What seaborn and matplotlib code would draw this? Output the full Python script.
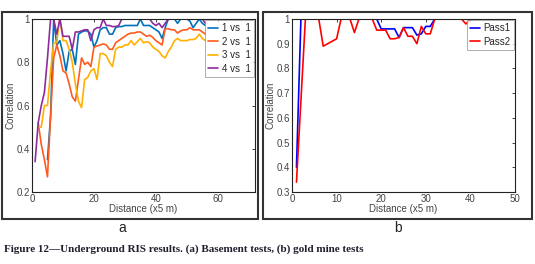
import numpy as np
import pandas as pd
import matplotlib
matplotlib.use("Agg")
import matplotlib.pyplot as plt
import seaborn as sns
from matplotlib.patches import Rectangle

# Panel (a) - basement tests, distance index 1..56
dist_a = list(range(1, 57))
vs1 = [None, None, None, None, 0.35, 0.55, 1.00, 0.88, 0.90, 0.84,
       0.76, 0.85, 0.86, 0.79, 0.93, 0.94, 0.945, 0.945, 0.93, 0.87,
       0.90, 0.95, 0.96, 0.96, 0.93, 0.93, 0.96, 0.965, 0.965, 0.97,
       0.97, 0.97, 0.97, 0.97, 1.00, 0.97, 0.97, 0.97, 0.96, 0.95,
       0.94, 0.91, 0.96, 1.00, 1.00, 1.00, 0.98, 1.00, 1.00, 1.00,
       0.99, 0.96, 0.98, 1.00, 0.98, 0.97]
vs2 = [None, 0.52, 0.42, 0.35, 0.27, 0.55, 0.82, 0.88, 0.83, 0.76,
       0.75, 0.70, 0.64, 0.62, 0.72, 0.82, 0.79, 0.80, 0.78, 0.87,
       0.875, 0.88, 0.885, 0.88, 0.86, 0.86, 0.89, 0.90, 0.91, 0.92,
       0.93, 0.935, 0.935, 0.94, 0.94, 0.93, 0.92, 0.925, 0.915, 0.90,
       0.89, 0.88, 0.955, 0.955, 0.95, 0.95, 0.935, 0.945, 0.95, 0.95,
       0.96, 0.95, 0.95, 0.95, 0.94, 0.93]
vs3 = [None, 0.50, 0.50, 0.60, 0.60, 0.76, 0.89, 0.89, 1.01, 0.90,
       0.90, 0.86, 0.80, 0.70, 0.62, 0.59, 0.72, 0.73, 0.76, 0.77,
       0.72, 0.84, 0.84, 0.83, 0.80, 0.78, 0.86, 0.87, 0.87, 0.88,
       0.88, 0.90, 0.88, 0.895, 0.91, 0.89, 0.895, 0.89, 0.87, 0.86,
       0.85, 0.83, 0.82, 0.85, 0.87, 0.90, 0.91, 0.90, 0.90, 0.90,
       0.905, 0.905, 0.91, 0.93, 0.91, 0.90]
vs4 = [0.34, 0.52, 0.60, 0.66, 0.82, 1.00, 1.00, 0.93, 1.00, 0.92,
       0.92, 0.92, 0.86, 0.94, 0.94, 0.945, 0.95, 0.95, 0.90, 0.95,
       0.96, 0.96, 1.00, 0.97, 0.97, 0.965, 0.965, 0.97, 1.00, 1.00,
       1.00, 1.00, 1.00, 1.00, 1.00, 1.00, 1.00, 1.00, 0.98, 0.97,
       0.98, 0.96, 0.98, 1.00, 1.00, 1.00, 1.00, 1.00, 1.00, 1.00,
       1.00, 1.00, 1.00, 1.00, 1.00, 0.98]
names_a = ["1 vs  1", "2 vs  1", "3 vs  1", "4 vs  1"]
colors_a = ["#0072BD", "#FF5A1F", "#FFB000", "#8E2C9E"]

# Panel (b) - gold mine tests, distance index 1..43
dist_b = list(range(1, 44))
pass1 = [0.40] + [1.0] * 18 + [0.96, 0.96, 0.96, 0.96, 0.925, 0.965, 0.965,
                               0.965, 0.935, 0.94, 0.97, 0.97] + [1.0] * 12
pass2 = [0.34, 0.67, 1.0, 1.0, 1.0, 1.0, 0.89, 0.90, 0.91, 0.92,
         1.0, 1.0, 1.0, 0.945, 1.0, 1.0, 1.0, 1.0, 0.955, 0.955,
         0.955, 0.92, 0.92, 0.925, 0.965, 0.93, 0.93, 0.90, 0.97, 0.94,
         0.94, 1.0, 1.0, 1.0, 1.0, 1.0, 1.0, 1.0, 0.98, 1.0,
         1.0, 1.0, 1.0]
names_b = ["Pass1", "Pass2"]
colors_b = ["#0000FF", "#FF0000"]

yticks_a = [0.2, 0.4, 0.6, 0.8, 1.0]
ylabels_a = ["0.2", "0.4", "0.6", "0.8", "1"]
xticks_a = [0, 20, 40, 60]
yticks_b = [0.3, 0.4, 0.5, 0.6, 0.7, 0.8, 0.9, 1.0]
ylabels_b = ["0.3", "0.4", "0.5", "0.6", "0.7", "0.8", "0.9", "1"]
xticks_b = [0, 10, 20, 30, 40, 50]


def long_form(x, series, names):
    rows = []
    for vals, name in zip(series, names):
        for xi, v in zip(x, vals):
            if v is not None:
                rows.append((xi, v, name))
    return pd.DataFrame(rows, columns=["dist", "corr", "series"])


sns.set_style("white")
plt.rcParams["font.family"] = ["Liberation Sans", "DejaVu Sans"]

W, H = 535, 264
fig = plt.figure(figsize=(W / 100, H / 100), dpi=100)


def px_axes(l, t, r, b):
    return fig.add_axes([l / W, 1 - b / H, (r - l) / W, (b - t) / H])


def style(ax, xlim, ylim, xt, yt, yl):
    ax.set_xlim(*xlim)
    ax.set_ylim(*ylim)
    ax.set_xticks(xt)
    ax.set_xticklabels([str(v) for v in xt])
    ax.set_yticks(yt)
    ax.set_yticklabels(yl)
    ax.tick_params(direction="in", top=True, right=True, length=2.5,
                   width=0.6, labelsize=7, colors="#222222",
                   labelcolor="#444444", pad=1.5)
    for s in ax.spines.values():
        s.set_visible(True)
        s.set_color("#222222")
        s.set_linewidth(0.8)
    ax.set_xlabel("Distance (x5 m)", fontsize=7, color="#444444", labelpad=0)
    ax.set_ylabel("Correlation", fontsize=7, color="#444444", labelpad=1)


# outer frames
for l, r in [(2, 258), (263, 532)]:
    fig.patches.append(Rectangle((l / W, 1 - 219 / H), (r - l) / W, 207 / H,
                                 transform=fig.transFigure, fill=False,
                                 edgecolor="#333333", linewidth=1.5))

ax1 = px_axes(32, 19, 255, 192)
df_a = long_form(dist_a, [vs1, vs2, vs3, vs4], names_a)
sns.lineplot(data=df_a, x="dist", y="corr", hue="series", hue_order=names_a,
             palette=dict(zip(names_a, colors_a)), estimator=None, sort=False,
             linewidth=1.2, ax=ax1)
style(ax1, (0, 72), (0.2, 1.0), xticks_a, yticks_a, ylabels_a)
leg = ax1.legend(loc="upper right", fontsize=7, handlelength=1.0,
                 handletextpad=0.4, borderpad=0.3, labelspacing=0.35,
                 borderaxespad=0.15, frameon=True, fancybox=False)
leg.get_frame().set_edgecolor("#888888")
leg.get_frame().set_linewidth(0.6)

ax2 = px_axes(292, 19, 515, 192)
df_b = long_form(dist_b, [pass1, pass2], names_b)
sns.lineplot(data=df_b, x="dist", y="corr", hue="series", hue_order=names_b,
             palette=dict(zip(names_b, colors_b)), estimator=None, sort=False,
             linewidth=1.2, ax=ax2)
style(ax2, (0, 50), (0.3, 1.0), xticks_b, yticks_b, ylabels_b)
leg = ax2.legend(loc="upper right", fontsize=7, handlelength=1.0,
                 handletextpad=0.4, borderpad=0.3, labelspacing=0.35,
                 borderaxespad=0.15, frameon=True, fancybox=False)
leg.get_frame().set_edgecolor("#888888")
leg.get_frame().set_linewidth(0.6)

fig.text(122 / W, 1 - 228 / H, "a", fontsize=10, ha="center", va="center",
         color="#222222")
fig.text(398 / W, 1 - 228 / H, "b", fontsize=10, ha="center", va="center",
         color="#222222")
fig.text(4 / W, 1 - 249 / H,
         "Figure 12\u2014Underground RIS results. (a) Basement tests, (b) gold mine tests",
         fontsize=8, fontweight="bold", family=["Liberation Serif"],
         ha="left", va="center", color="#1f1f2e")

fig.savefig("out.png", dpi=100)
